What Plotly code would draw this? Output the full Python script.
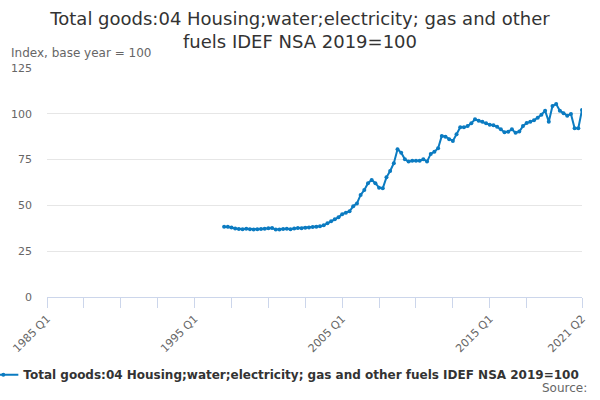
import plotly.graph_objects as go

# quarterly categories 1985 Q1 .. 2021 Q2
quarters = [f"{y} Q{q}" for y in range(1985, 2022) for q in range(1, 5)]
quarters = quarters[:quarters.index("2021 Q2") + 1]

series_name = "Total goods:04 Housing;water;electricity; gas and other fuels IDEF NSA 2019=100"

# series starts 1997 Q1
series_quarters = quarters[quarters.index("1997 Q1"):]
series_values = [
    38.3, 38.3, 37.9, 37.4, 37.1, 37.0, 37.2, 37.0,   # 1997-1998
    36.9, 37.0, 37.1, 37.2, 37.5, 37.6, 36.9, 36.8,   # 1999-2000
    37.1, 37.2, 37.0, 37.4, 37.6, 37.5, 37.8, 37.9,   # 2001-2002
    38.2, 38.4, 38.6, 39.1, 40.3, 41.3, 42.4, 43.5,   # 2003-2004
    45.2, 46.0, 46.8, 49.5, 51.1, 55.7, 58.4, 62.1,   # 2005-2006
    63.9, 62.1, 59.7, 59.3, 65.3, 68.8, 73.0, 80.6,   # 2007-2008
    78.8, 75.2, 73.9, 74.4, 74.4, 74.4, 75.2, 73.9,   # 2009-2010
    78.1, 79.3, 81.2, 87.9, 87.5, 86.1, 85.2, 88.8,   # 2011-2012
    92.6, 92.6, 93.3, 94.8, 97.0, 96.2, 95.7, 94.8,   # 2013-2014
    94.0, 93.7, 92.9, 91.5, 89.9, 90.2, 91.6, 89.6,   # 2015-2016
    90.3, 93.3, 95.0, 95.6, 96.5, 97.9, 99.5, 101.7,  # 2017-2018
    95.7, 104.3, 105.3, 101.7, 100.3, 99.0, 99.9, 92.1,  # 2019-2020
    92.1, 102.1,                                      # 2021
]
series_quarters = series_quarters[:len(series_values)]

tick_idx = list(range(0, 140, 10)) + [len(quarters) - 1]
tick_vals = [quarters[i] for i in tick_idx]
tick_text = [quarters[i] if i in (0, 40, 80, 120, len(quarters) - 1) else "" for i in tick_idx]

y_ticks = [0, 25, 50, 75, 100, 125]

fig = go.Figure()
fig.add_trace(go.Scatter(
    x=series_quarters,
    y=series_values,
    name=series_name,
    mode="lines+markers",
    line=dict(color="#0b7bc1", width=2),
    marker=dict(color="#0b7bc1", size=4),
))

fig.update_layout(
    width=600,
    height=400,
    margin=dict(l=47, r=18, t=68, b=103, autoexpand=False),
    paper_bgcolor="white",
    plot_bgcolor="white",
    font=dict(family="DejaVu Sans", color="#666666"),
    title=dict(
        text="Total goods:04 Housing;water;electricity; gas and other<br>fuels IDEF NSA 2019=100",
        x=0.5, xanchor="center", y=0.938, yanchor="top",
        font=dict(size=18, color="#333333"),
    ),
    showlegend=True,
    legend=dict(
        orientation="h", x=-0.119, xanchor="left", y=-0.276, yanchor="top",
        font=dict(size=12, color="#333333", family="DejaVu Sans", weight="bold"),
    ),
    annotations=[
        dict(text="Index, base year = 100", xref="paper", yref="paper",
             x=-0.071, y=1.025, xanchor="left", yanchor="bottom", showarrow=False,
             font=dict(size=12, color="#666666")),
        dict(text="Source:", xref="paper", yref="paper",
             x=1.013, y=-0.36, xanchor="right", yanchor="top", showarrow=False,
             font=dict(size=12, color="#666666")),
    ],
)

fig.update_xaxes(
    type="category",
    categoryorder="array",
    categoryarray=quarters,
    range=[0, len(quarters) - 1],
    tickvals=tick_vals,
    ticktext=tick_text,
    tickangle=-45,
    ticks="outside",
    ticklen=10,
    tickcolor="#ccd6eb",
    showline=True,
    linecolor="#ccd6eb",
    showgrid=False,
    tickfont=dict(size=11, color="#666666"),
)
fig.update_yaxes(
    range=[0, 125],
    tickvals=y_ticks,
    showgrid=True,
    gridcolor="#e6e6e6",
    zeroline=False,
    ticks="",
    ticklabelstandoff=14,
    tickfont=dict(size=11, color="#666666"),
)

# page body has a default 8px margin; drop it so the 600x400 figure fills the window
fig.write_html(
    "out.html",
    config={"displayModeBar": False},
    post_script="document.body.style.margin='0';",
)
